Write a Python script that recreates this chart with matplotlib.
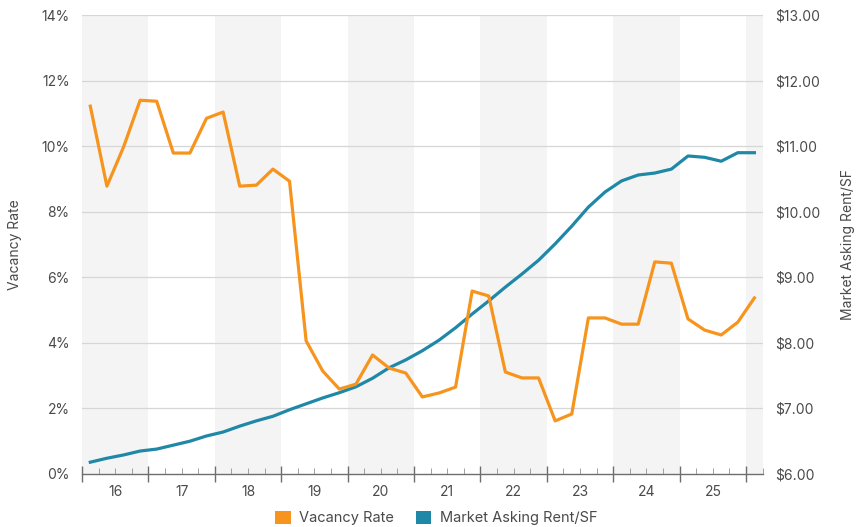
import numpy as np
import matplotlib
matplotlib.use("Agg")
import matplotlib.pyplot as plt
from matplotlib.patches import Patch
from matplotlib.ticker import FuncFormatter, FixedLocator

plt.rcParams['font.family'] = ['Inter', 'DejaVu Sans']

# quarterly series, 2016 Q1 .. 2026 Q1
year_labels = ['16', '17', '18', '19', '20', '21', '22', '23', '24', '25']
vacancy = [11.22, 8.78, 9.97, 11.40, 11.37, 9.79, 9.79, 10.85, 11.04, 8.78,
           8.81, 9.30, 8.93, 4.06, 3.14, 2.59, 2.74, 3.63, 3.23, 3.08,
           2.35, 2.47, 2.65, 5.58, 5.43, 3.11, 2.93, 2.93, 1.62, 1.83,
           4.76, 4.76, 4.57, 4.57, 6.47, 6.43, 4.73, 4.39, 4.24, 4.63,
           5.37]
rent = [6.18, 6.24, 6.29, 6.35, 6.38, 6.44, 6.50, 6.58, 6.64, 6.73,
        6.81, 6.88, 6.98, 7.07, 7.16, 7.24, 7.33, 7.46, 7.62, 7.74,
        7.88, 8.04, 8.23, 8.44, 8.64, 8.85, 9.05, 9.26, 9.51, 9.78,
        10.07, 10.30, 10.47, 10.56, 10.59, 10.65, 10.85, 10.83, 10.77, 10.90,
        10.90]

orange = '#F7941D'
blue = '#1F88A7'
txt = '#4a4a4a'

x = np.arange(len(vacancy))
n = len(x)

fig = plt.figure(figsize=(8.56, 5.27), dpi=100)
ax = fig.add_axes([0.0958, 0.1006, 0.7952, 0.8709])
ax2 = ax.twinx()

ax.set_xlim(-0.5, n - 0.5)
ax.set_ylim(0, 14)
ax2.set_ylim(6, 13)

# ax2 sits underneath: shading + grid + rent line; ax on top: vacancy
ax.set_zorder(ax2.get_zorder() + 1)
ax.patch.set_visible(False)

# alternating year shading
n_years = int(np.ceil(n / 4))
for k in range(n_years):
    if k % 2 == 0:
        ax2.axvspan(4 * k - 0.5, 4 * k + 3.5, color='#f4f4f4', lw=0, zorder=0)

# grid (left and right scales share the same lines)
for v in np.arange(7, 14, 1):
    ax2.axhline(v, color='#d6d6d6', lw=0.9, zorder=1)

ax2.plot(x, rent, color=blue, lw=2.3, zorder=3)
ax.plot(x, vacancy, color=orange, lw=2.3, zorder=3)

# y axes
ax.set_yticks(np.arange(0, 15, 2))
ax.yaxis.set_major_formatter(FuncFormatter(lambda v, p: f"{v:.0f}%"))
ax2.set_yticks(np.arange(6, 14, 1))
ax2.yaxis.set_major_formatter(FuncFormatter(lambda v, p: f"${v:.2f}"))
for a in (ax, ax2):
    a.tick_params(axis='y', length=0, labelsize=10, labelcolor=txt, pad=9)
    for s in ['top', 'left', 'right']:
        a.spines[s].set_visible(False)
ax2.spines['bottom'].set_visible(False)
ax.spines['bottom'].set_color('#6e6e6e')
ax.spines['bottom'].set_linewidth(1.0)

# x ticks: year boundaries (major), quarter boundaries (minor)
year_edges = np.arange(-0.5, n - 0.5, 4)
quarter_edges = [q for q in np.arange(-0.5, n, 1) if (q + 0.5) % 4 != 0]
ax.xaxis.set_major_locator(FixedLocator(year_edges))
ax.xaxis.set_minor_locator(FixedLocator(quarter_edges))
ax.tick_params(axis='x', which='major', direction='inout', length=11, width=1.0,
               color='#6e6e6e', labelbottom=False)
ax.tick_params(axis='x', which='minor', direction='in', length=4, width=0.7,
               color='#a0a0a0')
ax2.tick_params(axis='x', which='both', length=0, labelbottom=False)
for k, lab in enumerate(year_labels):
    ax.text(4 * k + 1.5, -0.025, lab, transform=ax.get_xaxis_transform(),
            ha='center', va='top', fontsize=10, color=txt)

fig.text(0.017, 0.535, 'Vacancy Rate', rotation=90, ha='center', va='center',
         fontsize=10, color=txt)
fig.text(0.991, 0.535, 'Market Asking Rent/SF', rotation=90, ha='center',
         va='center', fontsize=10, color=txt)

handles = [Patch(facecolor=orange, edgecolor='none', label='Vacancy Rate'),
           Patch(facecolor=blue, edgecolor='none', label='Market Asking Rent/SF')]
fig.legend(handles=handles, loc='center', bbox_to_anchor=(0.51, 0.017),
           ncol=2, frameon=False, fontsize=10.5, handlelength=1.05,
           handleheight=1.05, handletextpad=0.6, columnspacing=1.5,
           labelcolor=txt)

fig.savefig('out.png', dpi=100)
